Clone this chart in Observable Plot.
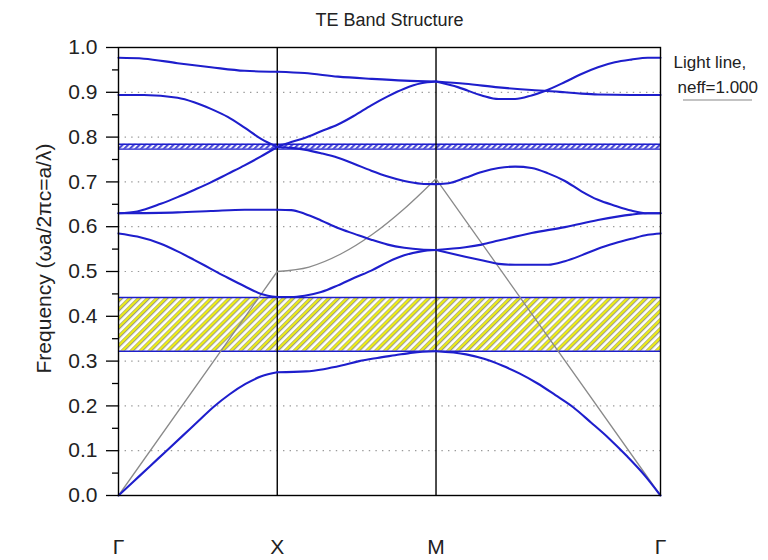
<!DOCTYPE html>
<html>
<head>
<meta charset="utf-8">
<script src="https://cdn.jsdelivr.net/npm/d3@7"></script>
<script src="https://cdn.jsdelivr.net/npm/@observablehq/plot@0.6"></script>
<style>
  html, body { margin: 0; padding: 0; background: #fff; }
  #chart svg { display: block; font-family: "Liberation Sans", Arial, sans-serif; }
</style>
</head>
<body>
<div id="chart"></div>
<script>
// Path through the Brillouin zone: Γ → X → M → Γ (cumulative |k|, units of 2π/a)
const symPoints = [0, 0.5, 1.0, 1.707];
const symLabels = ["Γ", "X", "M", "Γ"];

// TE bands, [k, ωa/2πc]
const band1 = [[0,0],[0.05,0.033],[0.1,0.066],[0.15,0.099],[0.2,0.132],[0.25,0.165],[0.3,0.198],[0.35,0.226],[0.4,0.249],[0.45,0.266],[0.5,0.275],
  [0.59,0.277],[0.646,0.282],[0.702,0.290],[0.758,0.300],[0.815,0.307],[0.871,0.313],[0.927,0.319],[1.0,0.322],
  [1.095,0.315],[1.151,0.305],[1.208,0.290],[1.264,0.272],[1.32,0.250],[1.376,0.224],[1.432,0.197],[1.488,0.163],[1.544,0.128],[1.601,0.088],[1.657,0.045],[1.707,0]];
const band2 = [[0,0.585],[0.059,0.578],[0.133,0.562],[0.186,0.545],[0.238,0.526],[0.291,0.506],[0.344,0.486],[0.397,0.467],[0.449,0.450],[0.5,0.443],
  [0.544,0.443],[0.586,0.446],[0.638,0.454],[0.691,0.469],[0.743,0.486],[0.796,0.502],[0.848,0.521],[0.9,0.536],[0.953,0.545],[1.0,0.548],
  [1.092,0.533],[1.144,0.525],[1.197,0.517],[1.249,0.515],[1.353,0.515],[1.406,0.523],[1.458,0.536],[1.51,0.551],[1.563,0.563],[1.615,0.573],[1.667,0.582],[1.707,0.585]];
const band3 = [[0,0.630],[0.186,0.632],[0.291,0.635],[0.397,0.638],[0.5,0.638],
  [0.544,0.637],[0.586,0.629],[0.638,0.614],[0.691,0.597],[0.743,0.584],[0.796,0.571],[0.848,0.560],[0.9,0.553],[0.953,0.549],[1.0,0.548],
  [1.092,0.554],[1.144,0.560],[1.197,0.569],[1.301,0.586],[1.406,0.599],[1.51,0.615],[1.615,0.627],[1.667,0.630],[1.707,0.630]];
const band4 = [[0,0.630],[0.059,0.634],[0.133,0.651],[0.186,0.666],[0.238,0.682],[0.291,0.699],[0.344,0.718],[0.397,0.737],[0.449,0.757],[0.5,0.778],
  [0.544,0.776],[0.586,0.772],[0.638,0.764],[0.691,0.754],[0.743,0.740],[0.796,0.725],[0.848,0.712],[0.9,0.702],[0.953,0.696],[1.0,0.695],
  [1.04,0.697],[1.092,0.709],[1.144,0.722],[1.197,0.731],[1.249,0.734],[1.301,0.731],[1.353,0.719],[1.406,0.702],[1.458,0.679],[1.51,0.660],[1.563,0.647],[1.615,0.636],[1.667,0.630],[1.707,0.630]];
const band5 = [[0,0.894],[0.08,0.894],[0.186,0.888],[0.238,0.878],[0.291,0.863],[0.344,0.845],[0.397,0.821],[0.449,0.796],[0.5,0.778],
  [0.544,0.789],[0.586,0.798],[0.638,0.813],[0.691,0.828],[0.743,0.848],[0.796,0.871],[0.848,0.891],[0.9,0.908],[0.953,0.920],[1.0,0.924],
  [1.071,0.911],[1.144,0.893],[1.197,0.885],[1.249,0.885],[1.301,0.893],[1.343,0.903],[1.406,0.923],[1.458,0.941],[1.51,0.956],[1.563,0.967],[1.615,0.973],[1.667,0.977],[1.707,0.977]];
const band6 = [[0,0.977],[0.08,0.975],[0.186,0.965],[0.291,0.956],[0.397,0.948],[0.5,0.946],
  [0.586,0.943],[0.691,0.935],[0.796,0.930],[0.9,0.926],[1.0,0.924],
  [1.092,0.919],[1.197,0.911],[1.301,0.905],[1.353,0.903],[1.406,0.900],[1.458,0.897],[1.51,0.895],[1.615,0.894],[1.707,0.894]];

// Light line for n_eff = 1
const lightLine = [[0,0],[0.5,0.5],[0.6,0.51],[0.7,0.539],[0.8,0.583],[0.9,0.64],[1.0,0.707],[1.707,0]];

// Band gaps [bottom, top]
const gapMain = [0.322, 0.442];
const gapThin = [0.773, 0.784];

// Axis ticks
const yMajor = d3.range(0, 11).map(i => i / 10);
const yMinor = d3.range(0, 10).map(i => i / 10 + 0.05);
const gridLines = yMajor.slice(1, 10);

// Split a curve into its three path segments so the kinks at X and M stay sharp
function segmentRows(points, name) {
  const rows = [];
  points.forEach(([k, f]) => {
    for (let s = 0; s < 3; s++) {
      if (k >= symPoints[s] - 1e-9 && k <= symPoints[s + 1] + 1e-9) rows.push({k, f, key: `${name}-${s}`});
    }
  });
  return rows;
}
const bands = [band1, band2, band3, band4, band5, band6];
const bandRows = bands.flatMap((band, b) => segmentRows(band, b));
const lightRows = segmentRows(lightLine, "light");
const gaps = [
  {y1: gapMain[0], y2: gapMain[1], fill: "url(#hatchGap)"},
  {y1: gapThin[0], y2: gapThin[1], fill: "url(#hatchThin)"}
];

const blue = "#1e1ecc";

// Pattern definitions for the hatched gap regions
function patterns() {
  const g = d3.create("svg:g");
  const defs = g.append("defs");
  const p1 = defs.append("pattern").attr("id", "hatchGap").attr("patternUnits", "userSpaceOnUse")
    .attr("width", 6.4).attr("height", 10).attr("patternTransform", "rotate(45)");
  p1.append("rect").attr("width", 6.4).attr("height", 10).attr("fill", "#ffffff");
  p1.append("rect").attr("x", 0.4).attr("width", 2.8).attr("height", 10).attr("fill", "#eeee10");
  p1.append("line").attr("x1", 0).attr("x2", 0).attr("y1", 0).attr("y2", 10).attr("stroke", "#6e6e6e").attr("stroke-width", 0.8);
  p1.append("line").attr("x1", 3.4).attr("x2", 3.4).attr("y1", 0).attr("y2", 10).attr("stroke", "#6e6e6e").attr("stroke-width", 0.8);
  const p2 = defs.append("pattern").attr("id", "hatchThin").attr("patternUnits", "userSpaceOnUse")
    .attr("width", 4).attr("height", 10).attr("patternTransform", "rotate(45)");
  p2.append("rect").attr("width", 4).attr("height", 10).attr("fill", "#ffffff");
  p2.append("rect").attr("width", 2.2).attr("height", 10).attr("fill", "#4a4ad8");
  return g.node();
}

// Legend swatch for the light line, placed beside the frame
function lightLegend(index, scales, values, dims) {
  const x0 = dims.width - dims.marginRight;
  const g = d3.create("svg:g");
  g.append("line")
    .attr("x1", x0 + 23).attr("x2", x0 + 92)
    .attr("y1", dims.marginTop + 53).attr("y2", dims.marginTop + 53)
    .attr("stroke", "#888").attr("stroke-width", 1.2);
  return g.node();
}

const chart = Plot.plot({
  width: 768,
  height: 560,
  marginLeft: 118,
  marginRight: 108,
  marginTop: 47,
  marginBottom: 65,
  style: {fontFamily: "'Liberation Sans', Arial, sans-serif", color: "#222", background: "#fff"},
  x: {domain: [0, symPoints[3]]},
  y: {domain: [0, 1]},
  marks: [
    patterns,
    Plot.ruleY(gridLines, {stroke: "#9a9a9a", strokeDasharray: "1.4,5.2", strokeWidth: 1.2}),
    Plot.rect(gaps, {x1: symPoints[0], x2: symPoints[3], y1: "y1", y2: "y2", fill: "fill"}),
    Plot.ruleY(gapMain.concat(gapThin), {stroke: blue, strokeWidth: 1.3}),
    Plot.ruleX(symPoints.slice(1, 3), {stroke: "#000", strokeWidth: 1.4}),
    Plot.line(lightRows, {x: "k", y: "f", z: "key", stroke: "#8a8a8a", strokeWidth: 1.3, curve: "monotone-x"}),
    Plot.line(bandRows, {x: "k", y: "f", z: "key", stroke: blue, strokeWidth: 2.1, curve: "monotone-x"}),
    Plot.frame({stroke: "#000", strokeWidth: 1.4}),
    Plot.axisY({ticks: yMajor, tickSize: 12, tickPadding: 9, tickFormat: d3.format(".1f"), fontSize: 21, label: null, stroke: "#000", strokeWidth: 1.3}),
    Plot.axisY({ticks: yMinor, tickSize: 6, tickFormat: () => "", label: null, stroke: "#000", strokeWidth: 1.3}),
    Plot.axisX({ticks: symPoints, tickSize: 0, tickPadding: 44, tickFormat: (d, i) => symLabels[i], fontSize: 21, label: null}),
    Plot.text(["Frequency (ωa/2πc=a/λ)"], {frameAnchor: "left", textAnchor: "middle", dx: -74, dy: -13, rotate: -90, fontSize: 21, fill: "#222", letterSpacing: 1}),
    Plot.text(["TE Band Structure"], {frameAnchor: "top", dy: -34, fontSize: 18, fill: "#222"}),
    Plot.text(["Light line,"], {frameAnchor: "top-right", textAnchor: "start", dx: 13, dy: 8, fontSize: 17, fill: "#222"}),
    Plot.text(["neff=1.000"], {frameAnchor: "top-right", textAnchor: "start", dx: 17, dy: 33, fontSize: 17, fill: "#222", letterSpacing: 1}),
    lightLegend
  ]
});

document.getElementById("chart").append(chart);
</script>
</body>
</html>
